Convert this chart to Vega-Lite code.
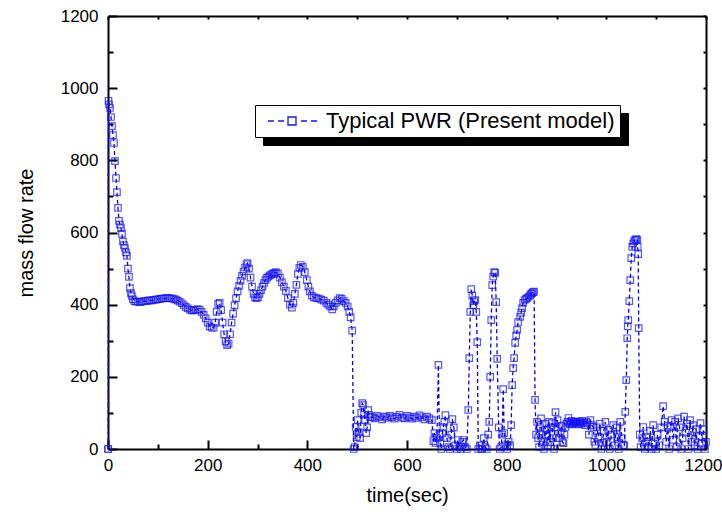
{
  "$schema": "https://vega.github.io/schema/vega-lite/v6.json",
  "width": 598,
  "height": 433,
  "autosize": "none",
  "padding": {"left": 108, "top": 16, "right": 16, "bottom": 69},
  "background": "white",
  "config": {
    "view": {"stroke": null},
    "font": "Liberation Sans",
    "axis": {"grid": false, "labelFont": "Liberation Sans", "titleFont": "Liberation Sans", "labelColor": "black", "titleColor": "black", "domainColor": "black", "tickColor": "black", "domainWidth": 2, "tickWidth": 2, "labelFlush": false, "labelOverlap": false, "titleFontWeight": "normal"}
  },
  "data": {"values": [
    {"t":0,"m":0},{"t":0.5,"m":0},{"t":1,"m":965},{"t":2,"m":955},{"t":4,"m":945},{"t":6,"m":920},{"t":8,"m":895},{"t":10,"m":870},{"t":12,"m":848},{"t":14,"m":798},{"t":16,"m":751},{"t":18,"m":712},{"t":20,"m":668},{"t":22,"m":632},{"t":24,"m":622},{"t":26,"m":612},{"t":28,"m":596},{"t":30,"m":575},{"t":32,"m":565},{"t":34,"m":557},{"t":36,"m":545},{"t":38,"m":535},{"t":40,"m":500},{"t":42,"m":477},{"t":44,"m":446},{"t":46,"m":432},{"t":48,"m":424},{"t":50,"m":415},{"t":53,"m":410},{"t":56,"m":408},
    {"t":60,"m":408},{"t":64,"m":407},{"t":68,"m":408},{"t":72,"m":410},{"t":76,"m":410},{"t":80,"m":411},{"t":84,"m":412},{"t":88,"m":412},{"t":92,"m":413},{"t":96,"m":414},{"t":100,"m":415},{"t":104,"m":416},{"t":108,"m":417},{"t":112,"m":417},{"t":116,"m":418},{"t":120,"m":418},{"t":124,"m":418},{"t":128,"m":417},{"t":132,"m":416},{"t":136,"m":414},{"t":140,"m":411},{"t":144,"m":408},{"t":148,"m":404},{"t":152,"m":399},{"t":156,"m":394},{"t":160,"m":390},{"t":164,"m":386},{"t":168,"m":384},{"t":172,"m":384},{"t":176,"m":386},{"t":180,"m":388},{"t":184,"m":386},{"t":188,"m":380},{"t":192,"m":372},{"t":196,"m":362},{"t":200,"m":350},{"t":204,"m":340},{"t":208,"m":336},{"t":212,"m":336},{"t":215,"m":350},{"t":218,"m":380},{"t":221,"m":402},{"t":224,"m":405},{"t":227,"m":385},{"t":230,"m":350},{"t":233,"m":318},{"t":236,"m":298},{"t":239,"m":288},{"t":242,"m":292},{"t":245,"m":318},{"t":248,"m":350},{"t":251,"m":375},{"t":254,"m":398},{"t":257,"m":418},{"t":260,"m":437},{"t":263,"m":452},{"t":266,"m":466},{"t":269,"m":480},{"t":272,"m":492},{"t":275,"m":503},{"t":278,"m":512},{"t":280,"m":515},{"t":283,"m":500},{"t":286,"m":475},{"t":289,"m":450},{"t":292,"m":430},{"t":295,"m":420},{"t":298,"m":418},{"t":301,"m":421},{"t":304,"m":430},{"t":307,"m":440},{"t":310,"m":450},{"t":313,"m":460},{"t":316,"m":468},{"t":319,"m":474},{"t":322,"m":478},{"t":325,"m":481},{"t":328,"m":484},{"t":331,"m":486},{"t":334,"m":488},{"t":337,"m":490},
    {"t":341,"m":486},{"t":345,"m":475},{"t":349,"m":462},{"t":353,"m":450},{"t":357,"m":438},{"t":361,"m":418},{"t":365,"m":400},{"t":369,"m":392},{"t":372,"m":405},{"t":375,"m":430},{"t":378,"m":455},{"t":381,"m":485},{"t":384,"m":502},{"t":387,"m":510},{"t":391,"m":505},{"t":395,"m":490},{"t":399,"m":468},{"t":402,"m":450},{"t":405,"m":437},{"t":409,"m":425},{"t":413,"m":420},{"t":418,"m":418},{"t":423,"m":417},{"t":428,"m":414},{"t":433,"m":411},{"t":438,"m":405},{"t":442,"m":400},{"t":446,"m":395},{"t":450,"m":387},{"t":453,"m":395},{"t":457,"m":405},{"t":461,"m":412},{"t":465,"m":418},{"t":469,"m":416},{"t":473,"m":410},{"t":477,"m":405},{"t":481,"m":395},{"t":484,"m":380},{"t":487,"m":365},{"t":490,"m":328},{"t":493,"m":0},
    {"t":495,"m":5},{"t":497,"m":61},{"t":499,"m":33},{"t":501,"m":80},{"t":503,"m":47},{"t":506,"m":30},{"t":508,"m":100},{"t":510,"m":127},{"t":512,"m":122},{"t":514,"m":95},{"t":516,"m":80},{"t":518,"m":44},{"t":520,"m":60},{"t":522,"m":108},{"t":524,"m":95},{"t":526,"m":89},{"t":530,"m":88},{"t":535,"m":85},{"t":540,"m":92},{"t":545,"m":88},{"t":550,"m":82},{"t":555,"m":90},{"t":560,"m":86},{"t":565,"m":92},{"t":570,"m":88},{"t":575,"m":84},{"t":580,"m":90},{"t":585,"m":95},{"t":590,"m":87},{"t":595,"m":85},{"t":600,"m":92},{"t":605,"m":88},{"t":610,"m":84},{"t":615,"m":90},{"t":620,"m":86},{"t":625,"m":93},{"t":630,"m":88},{"t":635,"m":82},{"t":640,"m":90},{"t":645,"m":85},{"t":650,"m":80},{"t":653,"m":22},{"t":655,"m":44},{"t":657,"m":17},{"t":660,"m":30},{"t":663,"m":233},{"t":665,"m":40},{"t":667,"m":15},{"t":669,"m":0},{"t":671,"m":44},{"t":673,"m":61},{"t":675,"m":75},{"t":677,"m":94},{"t":680,"m":30},{"t":683,"m":5},{"t":686,"m":0},{"t":689,"m":40},{"t":691,"m":83},{"t":694,"m":60},{"t":697,"m":10},{"t":700,"m":0},{"t":702,"m":25},{"t":705,"m":5},{"t":708,"m":0},{"t":711,"m":20},{"t":713,"m":25},{"t":717,"m":5},{"t":720,"m":0},{"t":723,"m":108},{"t":725,"m":252},{"t":727,"m":380},{"t":729,"m":443},{"t":731,"m":425},{"t":733,"m":399},{"t":735,"m":410},{"t":737,"m":413},{"t":739,"m":380},{"t":741,"m":296},{"t":743,"m":0},{"t":746,"m":10},{"t":749,"m":0},{"t":751,"m":0},{"t":754,"m":30},{"t":757,"m":5},{"t":760,"m":0},{"t":763,"m":40},{"t":765,"m":75},{"t":767,"m":200},{"t":769,"m":357},{"t":771,"m":454},{"t":773,"m":478},{"t":775,"m":490},{"t":777,"m":488},{"t":779,"m":407},{"t":781,"m":250},{"t":784,"m":60},{"t":786,"m":0},{"t":789,"m":5},{"t":791,"m":40},{"t":793,"m":166},{"t":795,"m":44},{"t":798,"m":10},{"t":801,"m":0},{"t":804,"m":20},{"t":807,"m":10},{"t":809,"m":66},{"t":811,"m":177},{"t":813,"m":224},{"t":815,"m":252},{"t":817,"m":294},{"t":819,"m":315},{"t":821,"m":330},{"t":823,"m":352},{"t":827,"m":366},{"t":829,"m":378},{"t":831,"m":390},{"t":833,"m":405},{"t":836,"m":413},{"t":839,"m":416},{"t":841,"m":418},{"t":844,"m":422},{"t":847,"m":426},{"t":849,"m":430},{"t":851,"m":432},{"t":853,"m":435},{"t":855,"m":436},{"t":857,"m":136},{"t":859,"m":40},{"t":861,"m":75},
    {"t":863,"m":30},{"t":865,"m":5},{"t":867,"m":61},{"t":869,"m":85},{"t":871,"m":39},{"t":873,"m":19},{"t":875,"m":0},{"t":877,"m":70},{"t":879,"m":40},{"t":881,"m":53},{"t":883,"m":10},{"t":885,"m":75},{"t":887,"m":19},{"t":889,"m":60},{"t":891,"m":72},{"t":893,"m":30},{"t":895,"m":0},{"t":898,"m":102},{"t":900,"m":60},{"t":902,"m":80},{"t":905,"m":30},{"t":908,"m":44},{"t":910,"m":65},{"t":912,"m":19},{"t":914,"m":16},{"t":916,"m":40},{"t":918,"m":61},{"t":920,"m":70},{"t":922,"m":75},{"t":924,"m":86},{"t":926,"m":72},{"t":928,"m":68},{"t":930,"m":78},{"t":932,"m":70},{"t":934,"m":75},{"t":936,"m":72},{"t":938,"m":76},{"t":940,"m":70},{"t":942,"m":74},{"t":944,"m":68},{"t":946,"m":76},{"t":948,"m":72},{"t":950,"m":70},{"t":952,"m":78},{"t":955,"m":72},{"t":958,"m":66},{"t":960,"m":75},{"t":962,"m":72},{"t":965,"m":40},{"t":968,"m":80},{"t":971,"m":66},{"t":974,"m":61},{"t":976,"m":20},{"t":978,"m":11},{"t":981,"m":60},{"t":984,"m":33},{"t":987,"m":70},{"t":990,"m":0},{"t":992,"m":17},{"t":995,"m":50},{"t":998,"m":75},{"t":1001,"m":20},{"t":1004,"m":53},{"t":1007,"m":0},{"t":1010,"m":40},{"t":1014,"m":66},{"t":1017,"m":10},{"t":1020,"m":60},{"t":1022,"m":33},{"t":1025,"m":0},{"t":1028,"m":75},{"t":1031,"m":30},{"t":1034,"m":11},
    {"t":1036,"m":10},{"t":1038,"m":103},{"t":1040,"m":191},{"t":1042,"m":307},{"t":1043,"m":340},{"t":1044,"m":357},{"t":1046,"m":410},{"t":1048,"m":468},{"t":1050,"m":529},{"t":1052,"m":560},{"t":1054,"m":570},{"t":1056,"m":576},{"t":1058,"m":580},{"t":1060,"m":582},{"t":1062,"m":580},{"t":1063,"m":560},{"t":1064,"m":540},{"t":1065,"m":335},{"t":1067,"m":40},{"t":1069,"m":5},
    {"t":1072,"m":30},{"t":1074,"m":61},{"t":1077,"m":0},{"t":1080,"m":20},{"t":1082,"m":33},{"t":1085,"m":5},{"t":1088,"m":50},{"t":1091,"m":0},{"t":1094,"m":66},{"t":1097,"m":15},{"t":1100,"m":0},{"t":1103,"m":40},{"t":1106,"m":10},{"t":1110,"m":60},{"t":1114,"m":119},{"t":1117,"m":75},{"t":1120,"m":20},{"t":1123,"m":65},{"t":1126,"m":0},{"t":1128,"m":61},{"t":1131,"m":80},{"t":1134,"m":25},{"t":1138,"m":75},{"t":1141,"m":5},{"t":1144,"m":85},{"t":1147,"m":60},{"t":1150,"m":0},{"t":1153,"m":30},{"t":1156,"m":90},{"t":1159,"m":45},{"t":1162,"m":70},{"t":1165,"m":0},{"t":1168,"m":80},{"t":1171,"m":20},{"t":1174,"m":66},{"t":1177,"m":10},{"t":1180,"m":55},{"t":1183,"m":0},{"t":1186,"m":35},{"t":1189,"m":72},{"t":1192,"m":15},{"t":1195,"m":55},{"t":1198,"m":0},{"t":1200,"m":20}
  ]},
  "layer": [
    {
      "mark": {"type": "point", "opacity": 0},
      "encoding": {
        "shape": {"datum": "shadow", "legend": {
          "orient": "none", "legendX": 155, "legendY": 97, "title": null,
          "fillColor": "black", "strokeColor": "black", "padding": 5,
          "symbolSize": 400, "symbolOpacity": 0, "symbolStrokeColor": "black", "symbolFillColor": "black",
          "labelFontSize": 22, "labelFont": "Liberation Sans", "labelColor": "black", "labelOffset": 44,
          "labelExpr": "'Typical PWR (Present model)'", "labelLimit": 0
        }}
      }
    },
    {
      "mark": {"type": "point", "opacity": 0},
      "encoding": {
        "color": {"datum": "Typical PWR (Present model)", "scale": {"range": ["#1010ff"]}, "legend": {
          "orient": "none", "legendX": 147, "legendY": 89, "title": null,
          "fillColor": "white", "strokeColor": "black", "padding": 5,
          "symbolType": "M-0.3,0H0.3M0.7,0H1.3M1.7,-0.4H2.5V0.4H1.7ZM3,0H3.6M4,0H4.6",
          "symbolSize": 400, "symbolStrokeColor": "#1010ff", "symbolStrokeWidth": 1.3, "symbolFillColor": "white", "symbolOpacity": 1,
          "labelFontSize": 22, "labelFont": "Liberation Sans", "labelColor": "black", "labelOffset": 44, "labelLimit": 0
        }}
      }
    },
    {
      "mark": {"type": "line", "stroke": "#0000ff", "strokeWidth": 1.3, "strokeDash": [4, 3]},
      "encoding": {
        "x": {"field": "t", "type": "quantitative", "scale": {"domain": [0, 1200], "nice": false},
          "axis": {"orient": "bottom", "title": "time(sec)", "values": [0,100,200,300,400,500,600,700,800,900,1000,1100,1200],
            "format": "d", "labelExpr": "datum.value % 200 === 0 ? datum.label : ''",
            "labelOffset": {"condition": {"test": "datum.value === 1200", "value": -3}, "value": 0},
            "tickSize": {"condition": {"test": "datum.value % 200 === 0", "value": -9}, "value": -5},
            "labelFontSize": 17, "labelPadding": 17, "titleFontSize": 20, "titlePadding": 8}},
        "y": {"field": "m", "type": "quantitative", "scale": {"domain": [0, 1200], "nice": false},
          "axis": {"orient": "left", "title": "mass flow rate", "values": [0,100,200,300,400,500,600,700,800,900,1000,1100,1200],
            "format": "d", "labelExpr": "datum.value % 200 === 0 ? datum.label : ''",
            "tickSize": {"condition": {"test": "datum.value % 200 === 0", "value": -9}, "value": -5},
            "labelFontSize": 17, "labelPadding": 19, "titleFontSize": 20, "titlePadding": 24}}
      }
    },
    {
      "mark": {"type": "point", "shape": "square", "filled": false, "size": 42, "strokeWidth": 1.2, "color": "#1010ff"},
      "encoding": {
        "x": {"field": "t", "type": "quantitative", "scale": {"domain": [0, 1200], "nice": false},
          "axis": {"orient": "top", "title": null, "labels": false, "values": [0,100,200,300,400,500,600,700,800,900,1000,1100,1200], "tickSize": -3}},
        "y": {"field": "m", "type": "quantitative", "scale": {"domain": [0, 1200], "nice": false},
          "axis": {"orient": "right", "title": null, "labels": false, "values": [0,100,200,300,400,500,600,700,800,900,1000,1100,1200], "tickSize": -3}}
      }
    }
  ],
  "resolve": {"axis": {"x": "independent", "y": "independent"}}
}
